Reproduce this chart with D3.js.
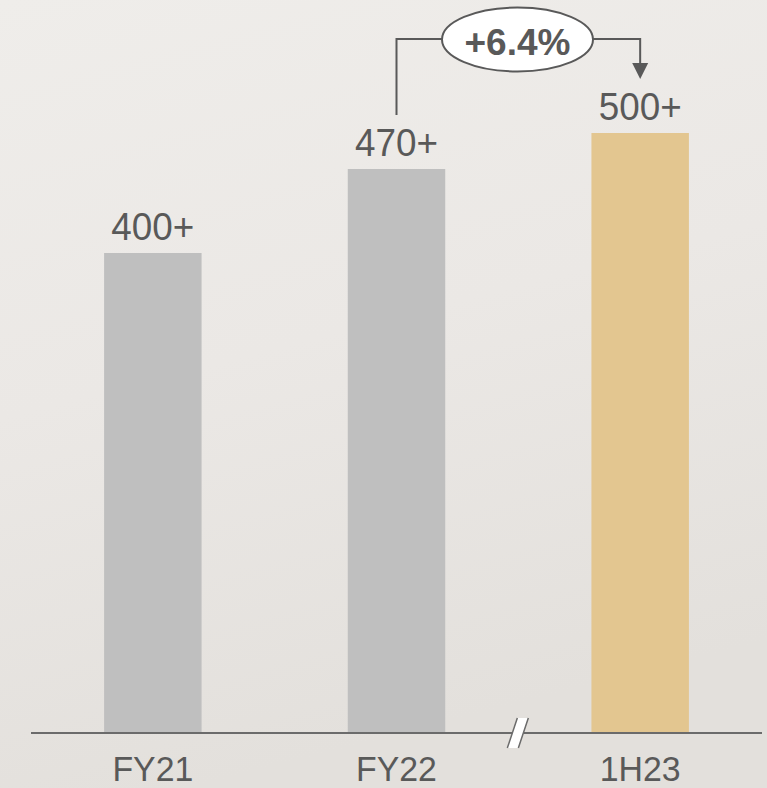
<!DOCTYPE html>
<html>
<head>
<meta charset="utf-8">
<script src="https://cdn.jsdelivr.net/npm/d3@7"></script>
<style>
  html, body { margin: 0; padding: 0; }
  body { width: 767px; height: 788px; overflow: hidden; }
  svg { display: block; }
</style>
</head>
<body>
<script>
// Periods and their counts (shown as "N+")
const categories = ["FY21", "FY22", "1H23"];
const values = [400, 470, 500];
const valueLabels = ["400+", "470+", "500+"];
const growthLabel = "+6.4%";

const W = 767, H = 788;
const baseY = 733, topY = 133;
const ink = "#595959";
const font = "Liberation Sans, Arial, sans-serif";

const svg = d3.select("body").append("svg")
  .attr("width", W).attr("height", H);

// soft paper-like background
const defs = svg.append("defs");
const bg = defs.append("linearGradient").attr("id", "bg")
  .attr("x1", "0").attr("y1", "0").attr("x2", "0.25").attr("y2", "1");
bg.append("stop").attr("offset", "0").attr("stop-color", "#efedea");
bg.append("stop").attr("offset", "0.5").attr("stop-color", "#ebe8e5");
bg.append("stop").attr("offset", "1").attr("stop-color", "#e3e0dc");
svg.append("rect").attr("width", W).attr("height", H).attr("fill", "url(#bg)");

const x = d3.scaleBand()
  .domain(categories)
  .range([31, 762])
  .paddingInner(0.6)
  .paddingOuter(0.3);

const y = d3.scaleLinear().domain([0, 500]).range([baseY, topY]);

const data = categories.map((c, i) => ({ cat: c, v: values[i], label: valueLabels[i] }));

// bars
svg.selectAll("rect.bar").data(data).join("rect")
  .attr("class", "bar")
  .attr("x", d => x(d.cat))
  .attr("y", d => y(d.v))
  .attr("width", x.bandwidth())
  .attr("height", d => y(0) - y(d.v))
  .attr("fill", (d, i) => i === categories.length - 1 ? "#e3c690" : "#bfbfbf");

// value labels
svg.selectAll("text.val").data(data).join("text")
  .attr("class", "val")
  .attr("transform", d => `translate(${x(d.cat) + x.bandwidth() / 2},${y(d.v) - 13}) scale(0.97,1)`)
  .attr("text-anchor", "middle")
  .attr("font-family", font)
  .attr("font-size", 38)
  .attr("fill", ink)
  .text(d => d.label);

// x axis
const axis = d3.axisBottom(x).tickSize(0);
const gAxis = svg.append("g").attr("transform", `translate(0,${baseY})`).call(axis);
gAxis.select(".domain").remove();
gAxis.append("line")
  .attr("x1", 31).attr("x2", 762).attr("y1", 0).attr("y2", 0)
  .attr("stroke", "#6b6b6b").attr("stroke-width", 2);
gAxis.selectAll(".tick text")
  .attr("font-family", font)
  .attr("font-size", 36)
  .attr("fill", ink)
  .attr("y", 48)
  .attr("dy", null)
  .attr("transform", "scale(0.94,1)");

// axis break between FY22 and 1H23
const bx = (x("FY22") + x.bandwidth() + x("1H23")) / 2;
const brk = svg.append("g").attr("transform", `translate(${bx},${baseY})`);
brk.append("polygon")
  .attr("points", "-11,15 -1,-15 10,-15 0,15")
  .attr("fill", "#ffffff");
brk.append("line").attr("x1", -11).attr("y1", 15).attr("x2", -1).attr("y2", -15)
  .attr("stroke", "#6b6b6b").attr("stroke-width", 1.5);
brk.append("line").attr("x1", 0).attr("y1", 15).attr("x2", 10).attr("y2", -15)
  .attr("stroke", "#6b6b6b").attr("stroke-width", 1.5);

// growth connector FY22 -> 1H23
const cx1 = x("FY22") + x.bandwidth() / 2;
const cx2 = x("1H23") + x.bandwidth() / 2;
const lineY = 39;
const ell = { cx: 517.5, cy: 39.5, rx: 75.5, ry: 32 };

svg.append("path")
  .attr("d", `M${cx1},${y(470) - 54} V${lineY} H${ell.cx}`)
  .attr("fill", "none").attr("stroke", ink).attr("stroke-width", 2);
svg.append("path")
  .attr("d", `M${ell.cx},${lineY} H${cx2} V${64}`)
  .attr("fill", "none").attr("stroke", ink).attr("stroke-width", 2);
svg.append("path")
  .attr("d", `M${cx2 - 8},${63} L${cx2 + 8},${63} L${cx2},${79} Z`)
  .attr("fill", ink);

svg.append("ellipse")
  .attr("cx", ell.cx).attr("cy", ell.cy).attr("rx", ell.rx).attr("ry", ell.ry)
  .attr("fill", "#ffffff").attr("stroke", ink).attr("stroke-width", 2);
svg.append("text")
  .attr("x", ell.cx).attr("y", 55)
  .attr("text-anchor", "middle")
  .attr("font-family", font)
  .attr("font-weight", "bold")
  .attr("font-size", 37)
  .attr("fill", ink)
  .text(growthLabel);
</script>
</body>
</html>
